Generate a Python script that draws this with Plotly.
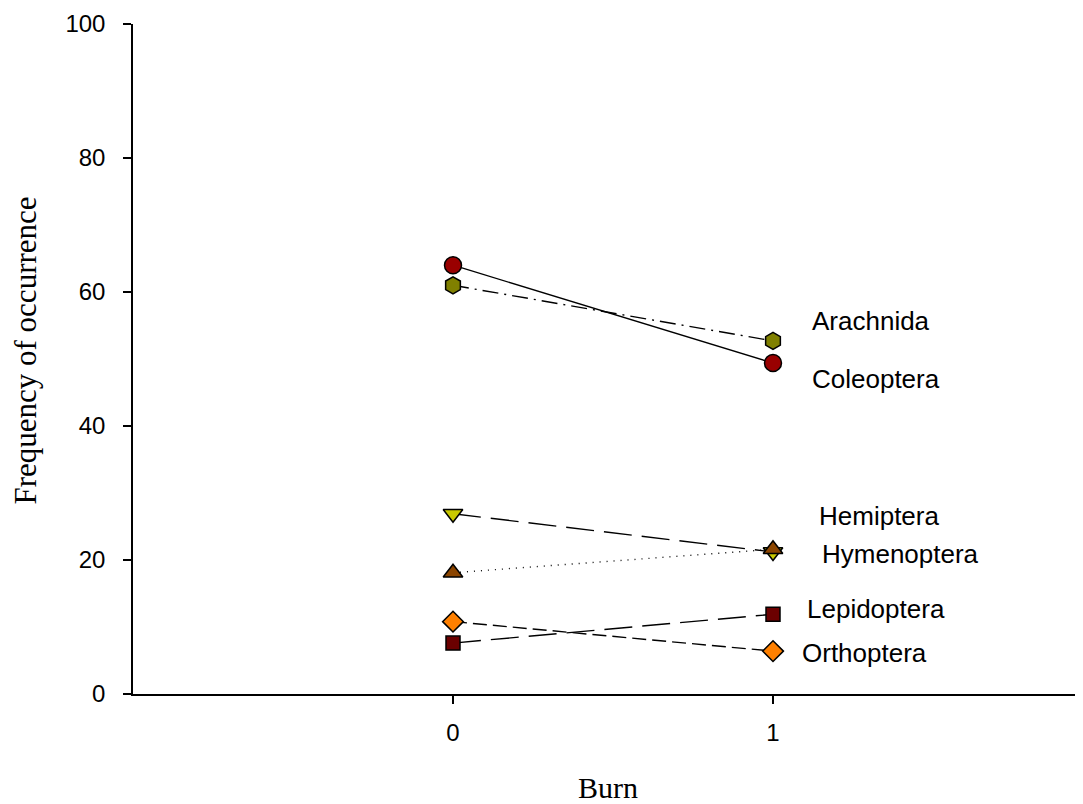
import plotly.graph_objects as go

burn = [0, 1]
taxa = ["Coleoptera", "Arachnida", "Hemiptera", "Hymenoptera", "Lepidoptera", "Orthoptera"]
coleoptera = [64.0, 49.4]
arachnida = [61.0, 52.7]
hemiptera = [26.9, 21.2]
hymenoptera = [18.1, 21.6]
lepidoptera = [7.6, 11.9]
orthoptera = [10.8, 6.4]

series = {
    "Coleoptera": coleoptera,
    "Arachnida": arachnida,
    "Hemiptera": hemiptera,
    "Hymenoptera": hymenoptera,
    "Lepidoptera": lepidoptera,
    "Orthoptera": orthoptera,
}

styles = {
    "Coleoptera": dict(color="#990000", symbol="circle", dash="solid", size=17),
    "Arachnida": dict(color="#808000", symbol="hexagon", dash="16px,6px,2px,6px", size=17),
    "Hemiptera": dict(color="#c8c800", symbol="triangle-down", dash="28px,10px", size=17),
    "Hymenoptera": dict(color="#8b4500", symbol="triangle-up", dash="1px,6px", size=17),
    "Lepidoptera": dict(color="#6b0000", symbol="square", dash="28px,10px", size=14),
    "Orthoptera": dict(color="#ff8000", symbol="diamond", dash="14px,6px", size=16),
}

# label offsets (pixels) relative to the Burn=1 point
label_offsets = {
    "Arachnida": (37, 20),
    "Coleoptera": (37, -16),
    "Hemiptera": (44, 36),
    "Hymenoptera": (47, -5),
    "Lepidoptera": (32, 5),
    "Orthoptera": (27, -2),
}

fig = go.Figure()
for name in ["Hemiptera", "Hymenoptera", "Orthoptera", "Lepidoptera", "Arachnida", "Coleoptera"]:
    s = styles[name]
    fig.add_trace(go.Scatter(
        x=burn, y=series[name], mode="lines+markers", name=name,
        line=dict(color="black", width=1.4, dash=s["dash"]),
        marker=dict(symbol=s["symbol"], size=s["size"], color=s["color"],
                    line=dict(color="black", width=1.5)),
        showlegend=False,
    ))

for name in taxa:
    dx, dy = label_offsets[name]
    fig.add_annotation(
        x=burn[1], y=series[name][1], text=name, showarrow=False,
        xanchor="left", yanchor="middle", xshift=dx, yshift=dy,
        font=dict(family="Arial, Liberation Sans", size=26, color="black"),
    )

# y-axis title placed as a rotated annotation
fig.add_annotation(
    x=0, y=0.5126, xref="paper", yref="paper", text="Frequency of occurrence",
    showarrow=False, textangle=-90, xanchor="center", yanchor="middle", xshift=-107,
    borderpad=0,
    font=dict(family="Times New Roman, Liberation Serif", size=31, color="black"),
)

fig.update_layout(
    width=1075, height=796,
    margin=dict(l=125, r=0, t=16, b=107),
    plot_bgcolor="white", paper_bgcolor="white",
    font=dict(family="Arial, Liberation Sans", size=24, color="black"),
    xaxis=dict(
        range=[-1, 1.96875], tickvals=[0, 1], ticktext=["0", "1"],
        showgrid=False, zeroline=False, showline=True, linecolor="black", linewidth=1.5,
        ticks="outside", ticklen=8, tickwidth=1.5, tickcolor="black",
        tickfont=dict(family="Arial, Liberation Sans", size=24),
        ticklabelstandoff=8,
        title=dict(text="Burn", font=dict(family="Times New Roman, Liberation Serif", size=30), standoff=37),
    ),
    yaxis=dict(
        range=[0, 100], tickvals=[0, 20, 40, 60, 80, 100],
        showgrid=False, zeroline=False, showline=True, linecolor="black", linewidth=1.5,
        ticks="outside", ticklen=8, tickwidth=1.5, tickcolor="black",
        tickfont=dict(family="Arial, Liberation Sans", size=24),
        ticklabelstandoff=13,
    ),
)

fig.write_html("out.html")
